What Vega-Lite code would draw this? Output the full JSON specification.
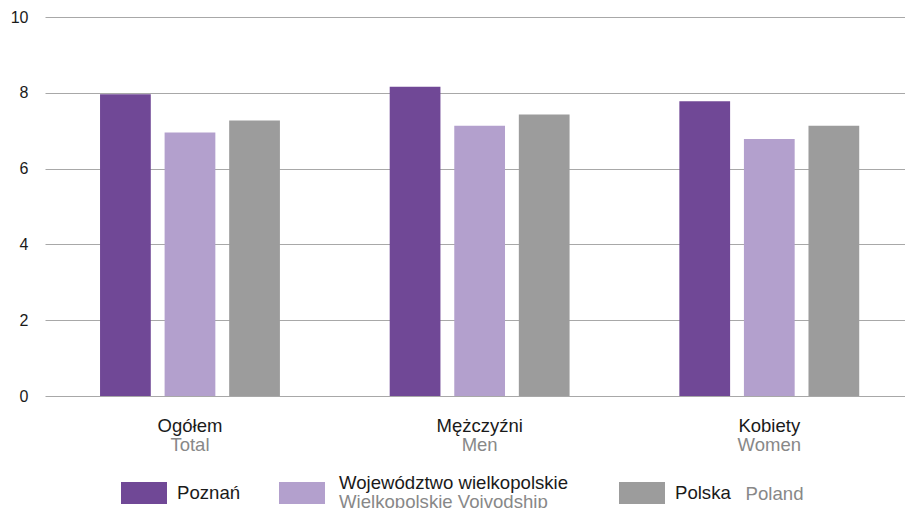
{
  "$schema": "https://vega.github.io/schema/vega-lite/v6.json",
  "width": 860,
  "height": 379,
  "autosize": {"type": "none"},
  "padding": {"left": 45, "top": 17, "right": 0, "bottom": 112},
  "config": {"font": "Liberation Sans", "view": {"stroke": null}},
  "data": {
    "values": [
      {"group": "Ogółem", "series": "Poznań", "seriesEn": "Poznań", "value": 7.96},
      {"group": "Ogółem", "series": "Województwo wielkopolskie", "seriesEn": "Wielkopolskie Voivodship", "value": 6.95},
      {"group": "Ogółem", "series": "Polska", "seriesEn": "Poland", "value": 7.27},
      {"group": "Mężczyźni", "series": "Poznań", "seriesEn": "Poznań", "value": 8.16},
      {"group": "Mężczyźni", "series": "Województwo wielkopolskie", "seriesEn": "Wielkopolskie Voivodship", "value": 7.13},
      {"group": "Mężczyźni", "series": "Polska", "seriesEn": "Poland", "value": 7.43},
      {"group": "Kobiety", "series": "Poznań", "seriesEn": "Poznań", "value": 7.78},
      {"group": "Kobiety", "series": "Województwo wielkopolskie", "seriesEn": "Wielkopolskie Voivodship", "value": 6.78},
      {"group": "Kobiety", "series": "Polska", "seriesEn": "Poland", "value": 7.13}
    ]
  },
  "layer": [
    {
      "mark": {"type": "bar", "strokeWidth": 0},
      "encoding": {
        "x": {
          "field": "group", "type": "nominal",
          "sort": ["Ogółem", "Mężczyźni", "Kobiety"],
          "scale": {"paddingInner": 0.379, "paddingOuter": 0.174, "align": 0.546},
          "axis": {"title": null, "orient": "bottom", "domain": false, "ticks": false, "grid": false, "labelAngle": 0, "labelFontSize": 18.5, "labelColor": "#1a1a1a", "labelPadding": 20}
        },
        "xOffset": {
          "field": "series", "type": "nominal",
          "sort": ["Poznań", "Województwo wielkopolskie", "Polska"],
          "scale": {"paddingInner": 0.214, "paddingOuter": 0}
        },
        "y": {
          "field": "value", "type": "quantitative",
          "scale": {"domain": [0, 10]},
          "axis": {"title": null, "values": [0, 2, 4, 6, 8, 10], "domain": false, "ticks": false, "gridColor": "#a8a8a8", "gridWidth": 1, "labelFontSize": 16, "labelColor": "#1a1a1a", "labelPadding": 17}
        },
        "color": {
          "field": "series", "type": "nominal",
          "scale": {"domain": ["Poznań", "Województwo wielkopolskie", "Polska"], "range": ["#704896", "#b3a0cd", "#9c9c9c"]},
          "legend": {
            "title": null, "orient": "none", "legendX": 76, "legendY": 453, "direction": "horizontal", "columns": 2, "columnPadding": 378, "padding": 0,
            "values": ["Poznań", "Polska"],
            "symbolType": "M-1,-0.478H1V0.478H-1Z", "symbolSize": 2116, "symbolStrokeWidth": 0,
            "labelFontSize": 18.6, "labelColor": "#1a1a1a", "labelOffset": 10, "labelLimit": 300,
            "zindex": 1
          }
        },
        "strokeDash": {
          "field": "seriesEn", "type": "nominal",
          "scale": {"domain": ["Poznań", "Wielkopolskie Voivodship", "Poland"], "range": [[1, 0], [1, 0], [1, 0]]},
          "legend": {
            "title": null, "orient": "none", "legendX": 234, "legendY": 453, "padding": 0,
            "values": ["Wielkopolskie Voivodship"],
            "symbolType": "M-1,-0.478H1V0.478H-1Z", "symbolSize": 2116, "symbolStrokeWidth": 0, "symbolOpacity": 1, "symbolFillColor": "#b3a0cd", "symbolDash": [1, 0],
            "labelFontSize": 18.6, "labelColor": "#1a1a1a", "labelOffset": 14, "labelLimit": 400, "labelBaseline": "bottom",
            "labelExpr": "'Województwo wielkopolskie'",
            "zindex": 1
          }
        },
        "stroke": {
          "field": "seriesEn", "type": "nominal",
          "scale": {"domain": ["Poland", "Poznań", "Wielkopolskie Voivodship"], "range": ["#9c9c9c", "#704896", "#b3a0cd"]},
          "legend": {
            "title": null, "orient": "none", "legendX": 234, "legendY": 453, "padding": 0,
            "values": ["Wielkopolskie Voivodship"],
            "symbolType": "M-1,-0.478H1V0.478H-1Z", "symbolSize": 2116, "symbolStrokeWidth": 0, "symbolOpacity": 0,
            "labelFontSize": 18.6, "labelColor": "#888888", "labelOffset": 14, "labelLimit": 400, "labelBaseline": "top",
            "zindex": 2
          }
        },
        "opacity": {
          "field": "seriesEn", "type": "ordinal",
          "scale": {"domain": ["Poland", "Wielkopolskie Voivodship", "Poznań"], "range": [1, 1, 1]},
          "legend": {
            "title": null, "orient": "none", "legendX": 682, "legendY": 468, "padding": 0,
            "values": ["Poland"],
            "symbolType": "square", "symbolSize": 1, "symbolStrokeWidth": 0, "symbolFillColor": "transparent", "symbolStrokeColor": "transparent",
            "labelFontSize": 18.6, "labelColor": "#888888", "labelOffset": 0, "labelLimit": 200,
            "zindex": 2
          }
        }
      }
    },
    {
      "mark": {"type": "bar", "opacity": 0},
      "encoding": {
        "x": {
          "field": "group", "type": "nominal",
          "sort": ["Ogółem", "Mężczyźni", "Kobiety"],
          "axis": {"title": null, "orient": "bottom", "domain": false, "ticks": false, "grid": false, "labelAngle": 0, "labelFontSize": 18.5, "labelColor": "#888888", "labelPadding": 39,
            "labelExpr": "datum.label == 'Ogółem' ? 'Total' : datum.label == 'Mężczyźni' ? 'Men' : 'Women'"}
        }
      }
    }
  ],
  "resolve": {"axis": {"x": "independent"}}
}
